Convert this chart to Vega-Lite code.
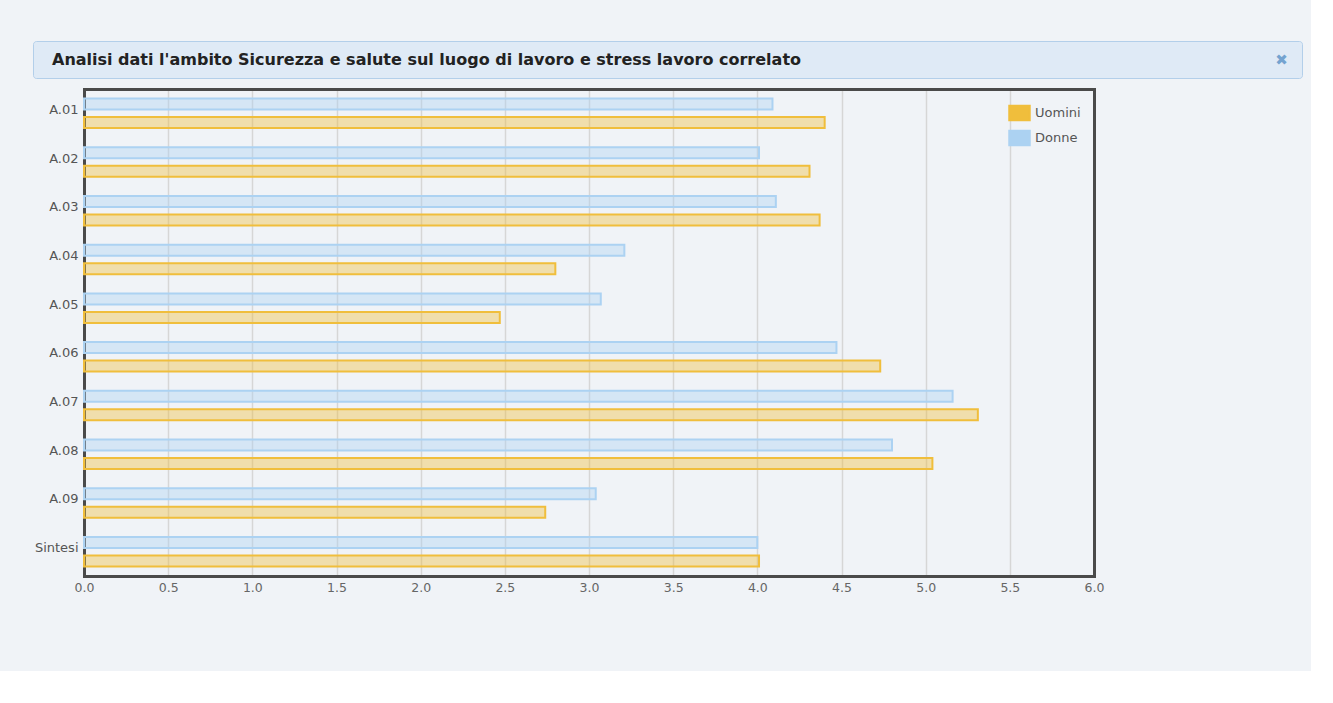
{
  "$schema": "https://vega.github.io/schema/vega-lite/v6.json",
  "background": "#f0f3f7",
  "padding": {"left": 32, "top": 40, "right": 8, "bottom": 77},
  "spacing": 10,
  "config": {
    "font": "DejaVu Sans",
    "view": {"stroke": null}
  },
  "vconcat": [
    {
      "width": 1269,
      "height": 37,
      "view": {"fill": "#dfeaf6", "stroke": "#b3cfea", "strokeWidth": 1, "cornerRadius": 3},
      "layer": [
        {
          "data": {"values": [{"t": "Analisi dati l'ambito Sicurezza e salute sul luogo di lavoro e stress lavoro correlato"}]},
          "mark": {"type": "text", "dx": -615.5, "fontSize": 16, "fontWeight": "bold", "color": "#222222", "font": "DejaVu Sans", "baseline": "middle", "align": "left"},
          "encoding": {"text": {"field": "t"}}
        },
        {
          "data": {"values": [{"t": "✖"}]},
          "mark": {"type": "text", "dx": 614, "fontSize": 15, "color": "#74a3d0", "font": "DejaVu Sans", "baseline": "middle", "align": "center"},
          "encoding": {"text": {"field": "t"}}
        }
      ]
    },
    {
      "width": 1061,
      "height": 487,
      "view": {"stroke": null, "fill": null},
      "data": {
        "values": [
          {"cat": "A.01", "gender": "Donne", "value": 4.09},
          {"cat": "A.01", "gender": "Uomini", "value": 4.40},
          {"cat": "A.02", "gender": "Donne", "value": 4.01},
          {"cat": "A.02", "gender": "Uomini", "value": 4.31},
          {"cat": "A.03", "gender": "Donne", "value": 4.11},
          {"cat": "A.03", "gender": "Uomini", "value": 4.37},
          {"cat": "A.04", "gender": "Donne", "value": 3.21},
          {"cat": "A.04", "gender": "Uomini", "value": 2.80},
          {"cat": "A.05", "gender": "Donne", "value": 3.07},
          {"cat": "A.05", "gender": "Uomini", "value": 2.47},
          {"cat": "A.06", "gender": "Donne", "value": 4.47},
          {"cat": "A.06", "gender": "Uomini", "value": 4.73},
          {"cat": "A.07", "gender": "Donne", "value": 5.16},
          {"cat": "A.07", "gender": "Uomini", "value": 5.31},
          {"cat": "A.08", "gender": "Donne", "value": 4.80},
          {"cat": "A.08", "gender": "Uomini", "value": 5.04},
          {"cat": "A.09", "gender": "Donne", "value": 3.04},
          {"cat": "A.09", "gender": "Uomini", "value": 2.74},
          {"cat": "Sintesi", "gender": "Donne", "value": 4.00},
          {"cat": "Sintesi", "gender": "Uomini", "value": 4.01}
        ]
      },
      "encoding": {
        "y": {
          "field": "cat",
          "type": "nominal",
          "sort": ["A.01", "A.02", "A.03", "A.04", "A.05", "A.06", "A.07", "A.08", "A.09", "Sintesi"],
          "scale": {"paddingInner": 0.384, "paddingOuter": 0.192}
        },
        "yOffset": {
          "field": "gender",
          "type": "nominal",
          "sort": ["Donne", "Uomini"],
          "scale": {"paddingInner": 0.405, "paddingOuter": 0.013}
        },
        "x": {
          "field": "value",
          "type": "quantitative",
          "scale": {"domain": [0, 6], "nice": false, "range": [51, 1061]}
        }
      },
      "layer": [
        {
          "mark": {"type": "bar", "opacity": 0},
          "encoding": {
            "x": {
              "field": "value",
              "type": "quantitative",
              "axis": {
                "orient": "top",
                "title": null,
                "labels": false,
                "ticks": false,
                "grid": false,
                "domain": true,
                "domainColor": "#4a4a4a",
                "domainWidth": 3,
                "domainCap": "square"
              }
            },
            "y": {
              "field": "cat",
              "type": "nominal",
              "sort": ["A.01", "A.02", "A.03", "A.04", "A.05", "A.06", "A.07", "A.08", "A.09", "Sintesi"],
              "axis": {
                "orient": "right",
                "title": null,
                "labels": false,
                "ticks": false,
                "grid": false,
                "domain": true,
                "domainColor": "#4a4a4a",
                "domainWidth": 3,
                "domainCap": "square"
              }
            }
          }
        },
        {
          "mark": {"type": "bar", "fillOpacity": 0.4, "strokeWidth": 2},
          "encoding": {
            "x": {
              "field": "value",
              "type": "quantitative",
              "axis": {
                "orient": "bottom",
                "title": null,
                "values": [0, 0.5, 1, 1.5, 2, 2.5, 3, 3.5, 4, 4.5, 5, 5.5, 6],
                "format": ".1f",
                "domain": true,
                "domainColor": "#4a4a4a",
                "domainWidth": 3,
                "domainCap": "square",
                "ticks": false,
                "labelFlush": false,
                "labelOverlap": false,
                "labelPadding": 5,
                "labelFontSize": 12.5,
                "labelColor": "#666666",
                "grid": true,
                "gridColor": "#d6d6d6",
                "gridWidth": 1.5
              }
            },
            "y": {
              "field": "cat",
              "type": "nominal",
              "sort": ["A.01", "A.02", "A.03", "A.04", "A.05", "A.06", "A.07", "A.08", "A.09", "Sintesi"],
              "axis": {
                "orient": "left",
                "offset": -51,
                "title": null,
                "domain": true,
                "domainColor": "#4a4a4a",
                "domainWidth": 3,
                "domainCap": "square",
                "ticks": false,
                "grid": false,
                "labelPadding": 6,
                "labelOffset": -3.5,
                "labelFontSize": 13,
                "labelColor": "#555555"
              }
            },
            "fill": {
              "field": "gender",
              "type": "nominal",
              "scale": {"domain": ["Uomini", "Donne"], "range": ["#f0be3c", "#acd2f2"]},
              "legend": {
                "title": null,
                "orient": "none",
                "legendX": 975,
                "legendY": 60.5,
                "padding": 0,
                "symbolType": "M-1,-0.7H1V0.7H-1Z",
                "symbolSize": 420,
                "symbolStrokeWidth": 2,
                "symbolStrokeColor": "#d3d3d3",
                "rowPadding": 2,
                "labelOffset": 4,
                "labelFontSize": 13,
                "labelColor": "#555555",
                "labelFont": "DejaVu Sans",
                "encode": {"symbols": {"update": {"fillOpacity": {"value": 1}, "stroke": {"value": "#d3d3d3"}, "strokeWidth": {"value": 2}}}}
              }
            },
            "stroke": {
              "field": "gender",
              "type": "nominal",
              "scale": {"domain": ["Uomini", "Donne"], "range": ["#f0be3c", "#acd2f2"]},
              "legend": null
            }
          }
        }
      ],
      "resolve": {"axis": {"x": "independent", "y": "independent"}}
    }
  ]
}
